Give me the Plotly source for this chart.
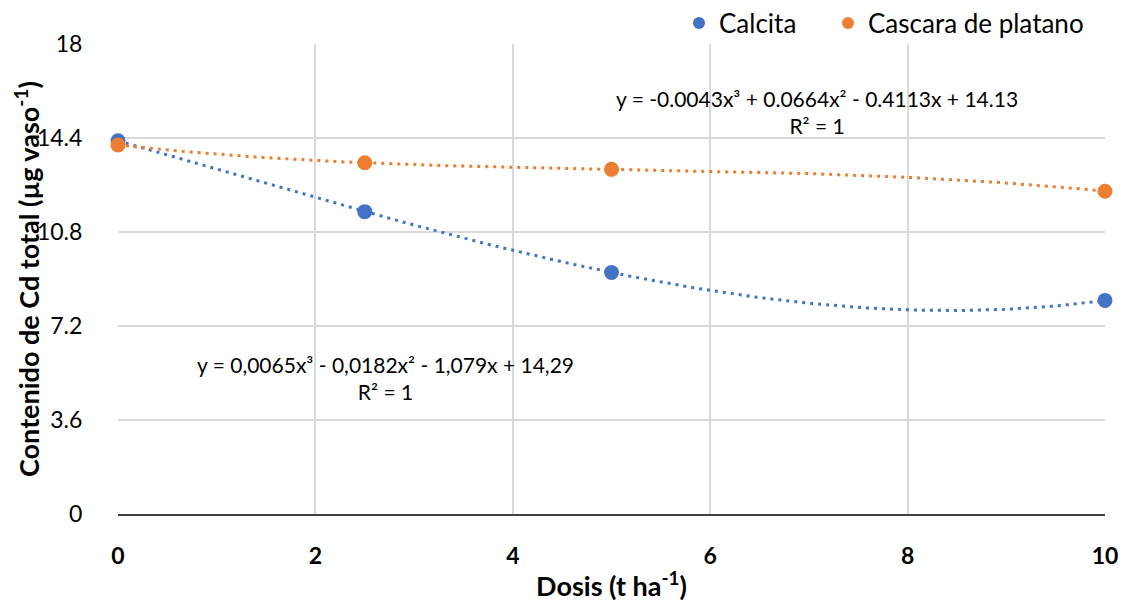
import numpy as np
import plotly.graph_objects as go

dosis = [0, 2.5, 5, 10]
calcita = [14.29, 11.58, 9.25, 8.18]
cascara = [14.13, 13.45, 13.20, 12.36]

x_ticks = [0, 2, 4, 6, 8, 10]
y_ticks = [0, 3.6, 7.2, 10.8, 14.4, 18]
y_tick_text = ["0", "3.6", "7.2", "10.8", "14.4", "18"]

eq_calcita = "y = 0,0065x³ - 0,0182x² - 1,079x + 14,29<br>R² = 1"
eq_cascara = "y = -0.0043x³ + 0.0664x² - 0.4113x + 14.13<br>R² = 1"
y_title = "<b>Contenido de Cd total (µg vaso<sup>-1</sup>)</b>"
x_title = "<b>Dosis (t ha<sup>-1</sup>)</b>"

blue = "#4472C4"
orange = "#ED7D31"
font = "Lato"

W, H = 1128, 608
OFF = 8  # page body offset
# plot area in screen pixels (reference)
L, R, T, B = 118, 1105, 44, 514
ml, mr, mt, mb = L - OFF, W - (R - OFF), T - OFF, H - (B - OFF)
pw = R - L
ph = B - T

xs = np.linspace(0, 10, 200)
fit_cal = np.polyval(np.polyfit(dosis, calcita, 3), xs)
fit_cas = np.polyval(np.polyfit(dosis, cascara, 3), xs)

fig = go.Figure()
fig.add_trace(go.Scatter(x=xs, y=fit_cal, mode="lines", line=dict(color=blue, width=3, dash="3px,5px"),
                         showlegend=False, hoverinfo="skip", cliponaxis=False))
fig.add_trace(go.Scatter(x=xs, y=fit_cas, mode="lines", line=dict(color=orange, width=3, dash="3px,5px"),
                         showlegend=False, hoverinfo="skip", cliponaxis=False))
fig.add_trace(go.Scatter(x=dosis, y=calcita, mode="markers", name="Calcita", legend="legend",
                         marker=dict(color=blue, size=15), cliponaxis=False))
fig.add_trace(go.Scatter(x=dosis, y=cascara, mode="markers", name="Cascara de platano", legend="legend2",
                         marker=dict(color=orange, size=15), cliponaxis=False))


def px_to_x(px):
    return (px - L) / (R - L) * 10


def px_to_y(py):
    return (B - py) / (B - T) * 18


fig.add_annotation(x=px_to_x(385), y=px_to_y(378), text=eq_calcita, showarrow=False,
                   font=dict(family=font, size=21, color="#000"))
fig.add_annotation(x=px_to_x(817), y=px_to_y(112), text=eq_cascara, showarrow=False,
                   font=dict(family=font, size=21, color="#000"))
# y-axis title placed precisely
fig.add_annotation(xref="paper", yref="paper", x=(27 - L) / pw, y=0.5, xanchor="center", yanchor="middle",
                   text=y_title, textangle=-90, showarrow=False,
                   font=dict(family=font, size=27, color="#000"))

leg_common = dict(orientation="h", xanchor="left", y=1 + (T - 23) / ph, yanchor="middle",
                  font=dict(family=font, size=26, color="#000"), itemsizing="constant",
                  bgcolor="rgba(0,0,0,0)")

fig.update_layout(
    width=W, height=H,
    margin=dict(l=ml, r=mr, t=mt, b=mb, autoexpand=False),
    paper_bgcolor="white", plot_bgcolor="white",
    font=dict(family=font, color="#000"),
    legend=dict(x=(696 - 17 - L) / pw, **leg_common),
    legend2=dict(x=(845 - 17 - L) / pw, **leg_common),
    xaxis=dict(range=[0, 10], tickvals=x_ticks, showgrid=True, gridcolor="#D9D9D9", gridwidth=2,
               zeroline=False, showline=True, linecolor="#404040", linewidth=2,
               tickfont=dict(family=font, size=23, color="#000", weight="bold"),
               ticks="outside", ticklen=20, tickcolor="rgba(0,0,0,0)",
               title=dict(text=x_title, font=dict(family=font, size=27, color="#000"), standoff=10)),
    yaxis=dict(range=[0, 18], tickvals=y_ticks, ticktext=y_tick_text, showgrid=True,
               gridcolor="#D9D9D9", gridwidth=2, zeroline=False, showline=False,
               tickfont=dict(family=font, size=23, color="#000"),
               ticks="outside", ticklen=30, tickcolor="rgba(0,0,0,0)"),
)

fig.write_html("out.html")
